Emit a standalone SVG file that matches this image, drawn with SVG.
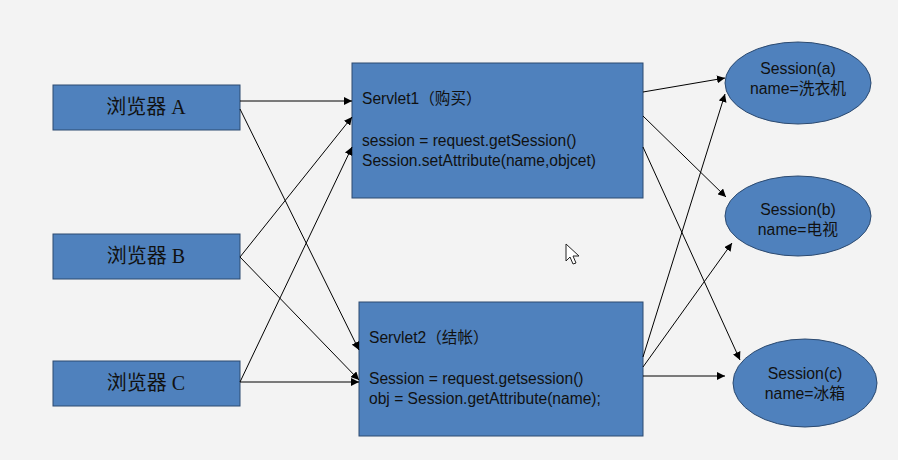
<svg xmlns="http://www.w3.org/2000/svg" width="898" height="460" viewBox="0 0 898 460">
  <defs>
    <marker id="arrow" viewBox="0 0 10 10" refX="10" refY="5" markerWidth="8" markerHeight="8" markerUnits="userSpaceOnUse" orient="auto">
      <path d="M0,0 L10,5 L0,10 Z" fill="#000"/>
    </marker>
    <style>
      .box { fill: #4f81bd; stroke: #2c4a70; stroke-width: 1; }
      .browser { font-family: "Liberation Serif", "Noto Sans CJK SC", serif; font-size: 20px; fill: #111; text-anchor: middle; }
      .code { font-family: "Liberation Sans", "Noto Sans CJK SC", sans-serif; font-size: 15.6px; fill: #111; }
      .sess { font-family: "Liberation Sans", "Noto Sans CJK SC", sans-serif; font-size: 15.8px; fill: #111; text-anchor: middle; }
      .link { fill: none; stroke: #000; stroke-width: 1; marker-end: url(#arrow); }
    </style>
  </defs>

  <rect width="898" height="460" fill="#f3f3f3"/>

  <!-- browsers -->
  <g id="browserA">
    <rect class="box" x="53" y="85" width="187" height="45"/>
    <text class="browser" x="146" y="114">浏览器 A</text>
  </g>
  <g id="browserB">
    <rect class="box" x="53" y="234" width="187" height="45"/>
    <text class="browser" x="146" y="263">浏览器 B</text>
  </g>
  <g id="browserC">
    <rect class="box" x="53" y="361" width="187" height="45"/>
    <text class="browser" x="146" y="390">浏览器 C</text>
  </g>

  <!-- servlets -->
  <g id="servlet1">
    <rect class="box" x="352" y="63" width="291" height="135"/>
    <text class="code" x="362" y="104">Servlet1（购买）</text>
    <text class="code" x="362" y="146">session = request.getSession()</text>
    <text class="code" x="362" y="166">Session.setAttribute(name,objcet)</text>
  </g>
  <g id="servlet2">
    <rect class="box" x="359" y="302" width="284" height="134"/>
    <text class="code" x="369" y="343">Servlet2（结帐）</text>
    <text class="code" x="369" y="384">Session = request.getsession()</text>
    <text class="code" x="369" y="404">obj = Session.getAttribute(name);</text>
  </g>

  <!-- sessions -->
  <g id="sessionA">
    <ellipse class="box" cx="798" cy="83" rx="73" ry="41"/>
    <text class="sess" x="798" y="74">Session(a)</text>
    <text class="sess" x="798" y="94">name=洗衣机</text>
  </g>
  <g id="sessionB">
    <ellipse class="box" cx="798" cy="216" rx="73" ry="40"/>
    <text class="sess" x="798" y="215">Session(b)</text>
    <text class="sess" x="798" y="235">name=电视</text>
  </g>
  <g id="sessionC">
    <ellipse class="box" cx="805" cy="383" rx="72" ry="44"/>
    <text class="sess" x="805" y="379">Session(c)</text>
    <text class="sess" x="805" y="399">name=冰箱</text>
  </g>

  <!-- connectors -->
  <g id="connectors">
    <line class="link" x1="240" y1="101" x2="352" y2="101"/>
    <line class="link" x1="240" y1="109" x2="359" y2="350"/>
    <line class="link" x1="240" y1="257" x2="352" y2="117"/>
    <line class="link" x1="240" y1="257" x2="359" y2="380"/>
    <line class="link" x1="240" y1="382" x2="352" y2="147"/>
    <line class="link" x1="240" y1="382" x2="359" y2="382"/>

    <line class="link" x1="643" y1="92" x2="725" y2="78"/>
    <line class="link" x1="643" y1="116" x2="726" y2="197"/>
    <line class="link" x1="643" y1="147" x2="740" y2="360"/>
    <line class="link" x1="643" y1="357" x2="725" y2="94"/>
    <line class="link" x1="643" y1="367" x2="732" y2="243"/>
    <line class="link" x1="643" y1="376" x2="725" y2="376"/>
  </g>

  <!-- mouse pointer -->
  <path d="M566,244 L566,261 L570,257 L573,264 L576,263 L573,256 L579,256 Z" fill="#fff" stroke="#222" stroke-width="1" stroke-linejoin="round"/>
</svg>
